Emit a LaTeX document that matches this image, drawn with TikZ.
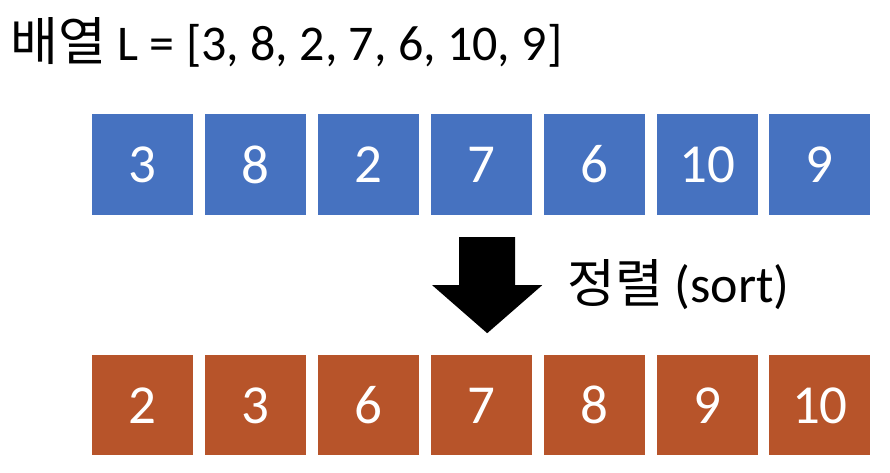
\documentclass[tikz,border=0pt]{standalone}
\usepackage{fontspec}
\setmainfont{Carlito}
\newfontfamily\kor{Noto Sans CJK KR}
\usetikzlibrary{positioning}
\definecolor{cellblue}{RGB}{70,114,192}
\definecolor{cellorange}{RGB}{183,84,42}

\begin{document}
\begin{tikzpicture}[
        x=1pt, y=-1pt,
        node distance=11.5pt,
        cell/.style={rectangle, minimum width=101pt, minimum height=100pt, inner sep=0pt, text=white, font=\fontsize{55}{60}\selectfont},
        unsorted/.style={cell, fill=cellblue},
        sorted/.style={cell, fill=cellorange},
        label/.style={inner sep=0pt, anchor=base west, font=\fontsize{52}{60}\selectfont}
    ]
        \useasboundingbox (0,0) rectangle (890,473);

        % ===== 제목 =====
        \node (title) [label] at (10,61) {{\kor 배열} {\fontsize{50}{60}\selectfont L = [3, 8, 2, 7, 6, 10, 9]}};

        % ===== 정렬 전 =====
        \node (u1) [unsorted] at (142.5,164.5) {3};
        \node (u2) [unsorted, right=of u1] {8};
        \node (u3) [unsorted, right=of u2] {2};
        \node (u4) [unsorted, right=of u3] {7};
        \node (u5) [unsorted, right=of u4] {6};
        \node (u6) [unsorted, right=of u5] {10};
        \node (u7) [unsorted, right=of u6] {9};

        % ===== 정렬 후 =====
        \node (s1) [sorted, below=140.5pt of u1] {2};
        \node (s2) [sorted, right=of s1] {3};
        \node (s3) [sorted, right=of s2] {6};
        \node (s4) [sorted, right=of s3] {7};
        \node (s5) [sorted, right=of s4] {8};
        \node (s6) [sorted, right=of s5] {9};
        \node (s7) [sorted, right=of s6] {10};

        % ===== 화살표 =====
        \coordinate (arrowTop) at ([xshift=6pt, yshift=-22.5pt]u4.south);
        \fill [black, shift={(arrowTop)}]
            (-28,0) -- (28,0) -- (28,48) -- (55,48) -- (0,96) -- (-55,48) -- (-28,48) -- cycle;
        \node (sortLabel) [label] at (567,302) {{\kor 정렬} (sort)};

    \end{tikzpicture}
\end{document}
